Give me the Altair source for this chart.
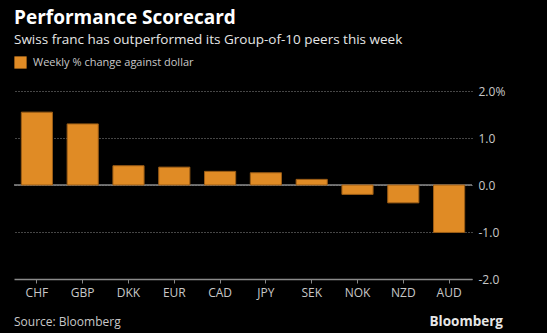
import altair as alt
import pandas as pd

currencies = ["CHF", "GBP", "DKK", "EUR", "CAD", "JPY", "SEK", "NOK", "NZD", "AUD"]
changes = [1.55, 1.30, 0.41, 0.38, 0.29, 0.26, 0.12, -0.20, -0.38, -1.01]
series_name = "Weekly % change against dollar"
y_ticks = [-2, -1, 0, 1, 2]

title_text = "Performance Scorecard"
subtitle_text = "Swiss franc has outperformed its Group-of-10 peers this week"
source_text = "Source: Bloomberg"
brand_text = "Bloomberg"

BAR = "#E08B25"
FONT = "Open Sans"

df = pd.DataFrame({"cur": currencies, "chg": changes, "series": [series_name] * len(currencies)})

bars = alt.Chart(df).mark_bar(stroke="#9a5c16", strokeWidth=1).encode(
    x=alt.X("cur:N", sort=currencies, title=None,
            scale=alt.Scale(paddingInner=0.32, paddingOuter=0.16),
            axis=alt.Axis(labelAngle=0, labelColor="#c8c8c8", labelFont=FONT, labelFontSize=12,
                          domainColor="#8a8a8a", domainWidth=1.5, tickColor="#8a8a8a", tickSize=4,
                          labelPadding=4, grid=False)),
    y=alt.Y("chg:Q", title=None,
            scale=alt.Scale(domain=[-2, 2], nice=False),
            axis=alt.Axis(orient="right", values=y_ticks, domain=False, ticks=False,
                          labelExpr="datum.value == 2 ? '2.0%' : replace(format(datum.value, '.1f'), '\u2212', '-')",
                          labelColor="#c8c8c8", labelFont=FONT, labelFontSize=12, labelPadding=6,
                          grid=True, gridColor="#8a8a8a", gridDash=[1, 2], gridWidth=1)),
    color=alt.Color("series:N", scale=alt.Scale(range=[BAR]),
                    legend=alt.Legend(title=None, orient="none", legendX=0, legendY=-35,
                                      symbolType="square", symbolSize=150, symbolStrokeWidth=0,
                                      labelColor="#c8c8c8", labelFont=FONT, labelFontSize=11,
                                      labelOffset=6, labelLimit=400)),
)

zero = alt.Chart(pd.DataFrame({"z": [0]})).mark_rule(color="#8a8a8a", strokeWidth=1.5).encode(y="z:Q")

def txt(s, x, y, size, color, weight="normal", align="left"):
    return alt.Chart(pd.DataFrame({"t": [s]})).mark_text(
        align=align, baseline="alphabetic", font=FONT, fontSize=size, color=color, fontWeight=weight
    ).encode(text="t:N", x=alt.value(x), y=alt.value(y))

title = txt(title_text, 0, -67, 19, "#ffffff", "bold")
subtitle = txt(subtitle_text, 0, -47, 13.5, "#e6e6e6")
source = txt(source_text, 0, 235, 12, "#c8c8c8")
brand = txt(brand_text, 489, 235, 13.5, "#e6e6e6", "bold", "right")

chart = alt.layer(zero, bars, title, subtitle, source, brand).properties(
    width=458, height=188,
    background="#000000",
    padding={"left": 14, "top": 91, "right": 75, "bottom": 54},
    autosize=alt.AutoSizeParams(type="none"),
).configure_view(stroke=None)

chart.save("out.html", embed_options={"renderer": "svg", "actions": False})
